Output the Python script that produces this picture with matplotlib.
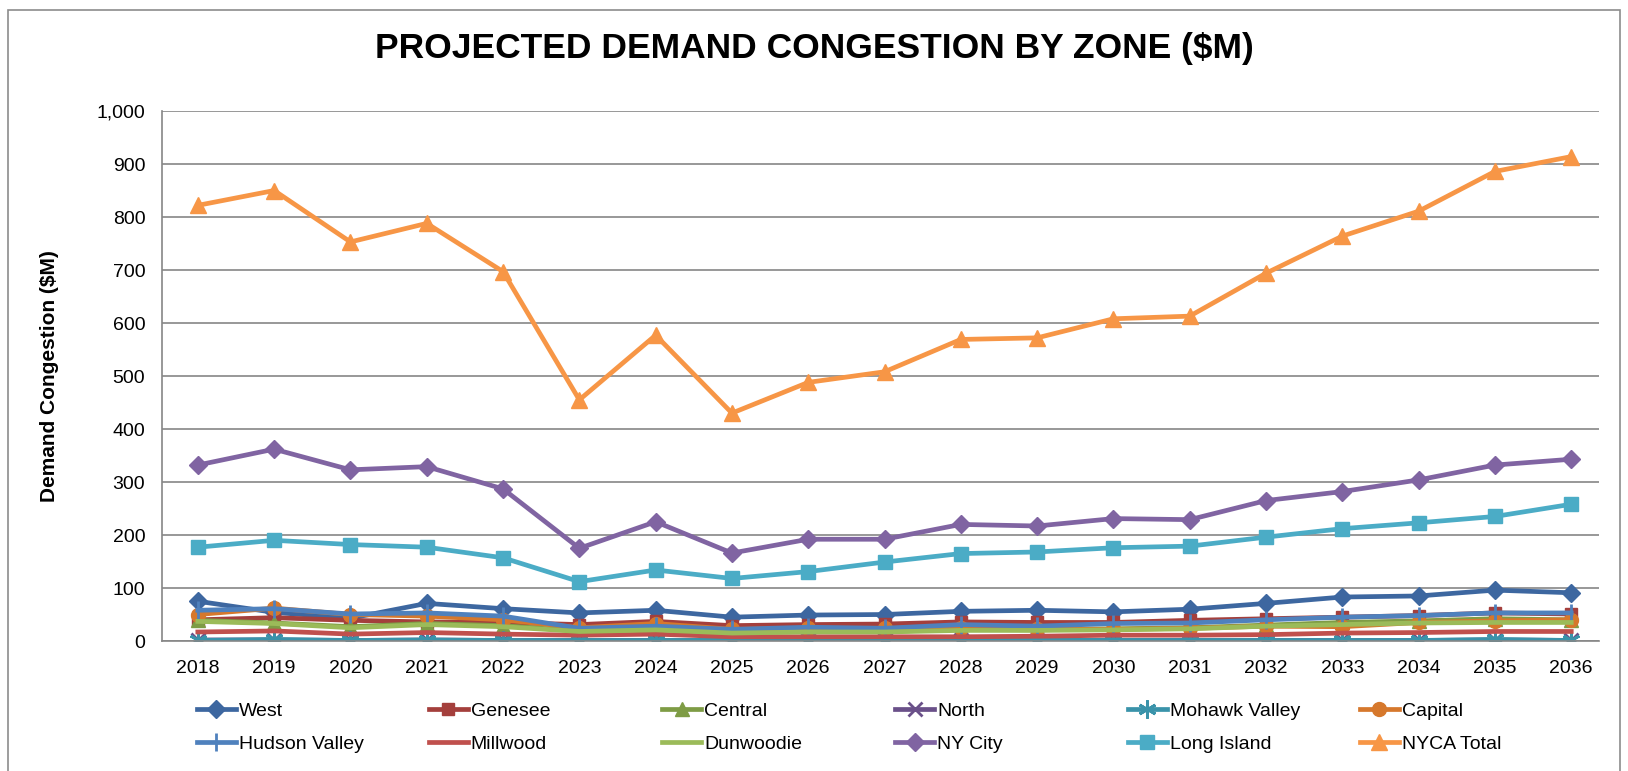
import matplotlib.pyplot as plt
from matplotlib.patches import Rectangle

# ----------------------------
# data ($M)
# ----------------------------
years = ["2018", "2019", "2020", "2021", "2022", "2023", "2024", "2025", "2026", "2027",
         "2028", "2029", "2030", "2031", "2032", "2033", "2034", "2035", "2036"]

west = [75, 54, 43, 71, 61, 53, 58, 45, 49, 50, 56, 58, 55, 60, 71, 83, 85, 96, 91]
genesee = [40, 44, 39, 36, 35, 31, 37, 29, 31, 32, 36, 35, 35, 39, 42, 45, 48, 53, 51]
central = [39, 34, 27, 33, 29, 19, 23, 16, 18, 18, 22, 21, 23, 25, 30, 35, 38, 42, 40]
north = [2, 2, 1, 2, 1, 1, 1, 1, 1, 1, 1, 1, 1, 1, 1, 1, 1, 2, 1]
mohawk_valley = [1, 3, 1, 2, 1, 1, 1, 1, 1, 1, 1, 1, 1, 1, 1, 1, 1, 3, 1]
capital = [50, 62, 50, 47, 40, 25, 33, 22, 24, 24, 25, 23, 22, 24, 28, 27, 35, 38, 40]
hudson_valley = [58, 61, 51, 53, 47, 24, 28, 22, 26, 24, 31, 28, 33, 34, 40, 45, 48, 53, 53]
millwood = [17, 19, 13, 16, 13, 11, 13, 8, 8, 8, 8, 9, 11, 11, 12, 15, 16, 18, 18]
dunwoodie = [37, 33, 25, 31, 27, 18, 21, 15, 17, 17, 20, 20, 21, 23, 28, 31, 34, 35, 35]
ny_city = [332, 362, 323, 329, 287, 175, 225, 166, 192, 192, 220, 217, 231, 229, 265, 282, 304, 332, 343]
long_island = [177, 190, 182, 177, 157, 112, 134, 118, 131, 149, 165, 168, 176, 179, 196, 212, 223, 235, 258]
nyca_total = [822, 850, 753, 788, 697, 455, 577, 430, 488, 508, 569, 572, 608, 613, 694, 764, 811, 886, 914]

y_ticks = [0, 100, 200, 300, 400, 500, 600, 700, 800, 900, 1000]

# (label, values, colour, marker, marker size)
series = [
    ("West", west, "#3D67A0", "D", 9),
    ("Genesee", genesee, "#A43F3C", "s", 9),
    ("Central", central, "#7E9C45", "^", 10),
    ("North", north, "#6A5089", "x", 10),
    ("Mohawk Valley", mohawk_valley, "#3A93AA", (6, 2, 0), 13),
    ("Capital", capital, "#D6782C", "o", 10),
    ("Hudson Valley", hudson_valley, "#4F81BD", "|", 13),
    ("Millwood", millwood, "#C0504D", None, 0),
    ("Dunwoodie", dunwoodie, "#9BBB59", None, 0),
    ("NY City", ny_city, "#8064A2", "D", 9),
    ("Long Island", long_island, "#4BACC6", "s", 10),
    ("NYCA Total", nyca_total, "#F79646", "^", 11),
]

plt.rcParams["font.family"] = ["Liberation Sans", "DejaVu Sans"]

fig = plt.figure(figsize=(16.28, 7.71), dpi=100)
ax = fig.add_axes([0.0995, 0.1686, 0.8825, 0.6874])

# chart area border
fig.patches.append(Rectangle((0.005, -0.01), 0.99, 0.997, transform=fig.transFigure,
                             fill=False, edgecolor="#8C8C8C", linewidth=1.2))

x = list(range(len(years)))
handles = []
for label, vals, color, marker, ms in series:
    line, = ax.plot(x, vals, color=color, linewidth=3.4, marker=marker, markersize=ms,
                    markeredgewidth=2 if marker in ("x", "|", (6, 2, 0)) else 1,
                    markeredgecolor=color, markerfacecolor=color, label=label,
                    solid_joinstyle="round")
    handles.append(line)

ax.set_xlim(-0.47, 18.36)
ax.set_ylim(0, 1000)
ax.set_yticks(y_ticks)
ax.set_yticklabels([f"{v:,}" for v in y_ticks], fontsize=14)
ax.set_xticks(x)
ax.set_xticklabels(years, fontsize=14)
ax.tick_params(axis="x", length=0, pad=14)
ax.tick_params(axis="y", length=0, pad=12)

ax.grid(axis="y", color="#868686", linewidth=1.2)
ax.set_axisbelow(True)
for side in ("top", "right"):
    ax.spines[side].set_visible(False)
for side in ("left", "bottom"):
    ax.spines[side].set_color("#868686")
    ax.spines[side].set_linewidth(1.2)

ax.set_ylabel("Demand Congestion ($M)", fontsize=15, fontweight="bold", labelpad=27)

fig.text(0.5, 0.937, "PROJECTED DEMAND CONGESTION BY ZONE ($M)", ha="center", va="center",
         fontsize=25.5, fontweight="bold")

# legend: 6 columns x 2 rows, each column placed at a fixed x like Excel does
col_x = [0.121, 0.2635, 0.4067, 0.5498, 0.6929, 0.8354]
for j, cx in enumerate(col_x):
    pair = [handles[j], handles[j + 6]]
    fig.legend(pair, [h.get_label() for h in pair], loc="upper left",
               bbox_to_anchor=(cx, 0.089), frameon=False, fontsize=14,
               handlelength=2.0, handletextpad=0.15, labelspacing=0.8,
               borderaxespad=0, borderpad=0)

plt.savefig("out.png", dpi=100)
